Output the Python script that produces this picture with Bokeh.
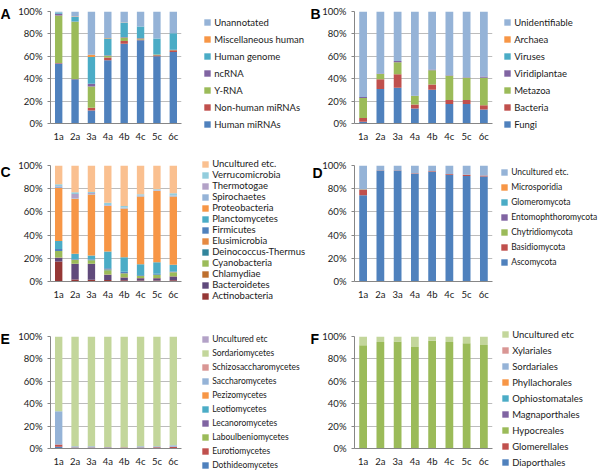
import numpy as np
from bokeh.plotting import figure
from bokeh.models import (ColumnDataSource, Range1d, FixedTicker, PrintfTickFormatter,
                          Legend, LegendItem, Label)
from bokeh.layouts import row, column
from bokeh.embed import file_html
from bokeh.resources import INLINE

samples = ["1a", "2a", "3a", "4a", "4b", "4c", "5c", "6c"]
pct_ticks = [0, 20, 40, 60, 80, 100]

# ---------------- Panel A ----------------
a_series = ["Human miRNAs", "Non-human miRNAs", "Y-RNA", "ncRNA", "Human genome",
            "Miscellaneous human", "Unannotated"]
a_values = [
    [53.5, 39.5, 11.6, 56.5, 71.3, 74.3, 60.0, 63.9],
    [0.5, 0.3, 2.4, 2.5, 2.4, 0.7, 1.0, 1.5],
    [42.5, 51.0, 19.0, 1.5, 3.0, 1.0, 0.5, 0.2],
    [1.5, 0.2, 2.4, 0.5, 0.5, 0.3, 0.2, 0.2],
    [1.0, 4.0, 23.9, 15.0, 12.7, 10.3, 14.1, 14.8],
    [0.0, 0.5, 2.1, 0.3, 0.3, 0.0, 0.2, 0.0],
    [1.0, 4.5, 38.6, 23.7, 9.8, 13.4, 24.0, 19.4],
]
a_colors = ["#4F81BD", "#C0504D", "#9BBB59", "#8064A2", "#4BACC6", "#F79646", "#95B3D7"]

# ---------------- Panel B ----------------
b_series = ["Fungi", "Bacteria", "Metazoa", "Viridiplantae", "Viruses", "Archaea",
            "Unidentifiable"]
b_values = [
    [1.5, 30.7, 31.9, 13.4, 30.1, 17.3, 17.3, 12.5],
    [3.5, 8.7, 12.0, 3.6, 4.8, 3.6, 3.6, 3.9],
    [17.7, 4.8, 10.7, 7.5, 12.6, 21.8, 20.0, 24.5],
    [1.0, 0.5, 1.3, 0.3, 0.7, 0.3, 0.3, 1.0],
    [0.0, 0.0, 0.0, 0.0, 0.0, 0.0, 0.0, 0.0],
    [0.0, 0.0, 0.0, 0.0, 0.0, 0.0, 0.0, 0.0],
    [76.3, 55.3, 44.1, 75.2, 51.8, 57.0, 58.8, 58.3],
]
b_colors = ["#4F81BD", "#C0504D", "#9BBB59", "#8064A2", "#4BACC6", "#F79646", "#95B3D7"]

# ---------------- Panel C ----------------
c_series = ["Actinobacteria", "Bacteroidetes", "Chlamydiae", "Cyanobacteria",
            "Deinococcus-Thermus", "Elusimicrobia", "Firmicutes", "Planctomycetes",
            "Proteobacteria", "Spirochaetes", "Thermotogae", "Verrucomicrobia",
            "Uncultured etc."]
c_values = [
    [17.3, 1.8, 1.5, 1.2, 1.0, 0.8, 0.8, 1.0],
    [3.2, 13.4, 13.7, 4.6, 2.5, 2.1, 2.1, 3.4],
    [0.2, 0.0, 0.0, 0.2, 0.2, 0.1, 0.1, 0.1],
    [5.5, 3.5, 3.2, 3.8, 2.9, 1.8, 2.7, 3.2],
    [0.0, 0.3, 0.3, 0.5, 0.5, 0.3, 0.3, 0.3],
    [0.0, 0.0, 0.0, 0.2, 0.2, 0.1, 0.1, 0.1],
    [1.8, 0.5, 0.5, 1.0, 1.0, 0.5, 0.5, 0.5],
    [7.0, 4.5, 3.3, 14.3, 12.6, 9.1, 10.0, 5.9],
    [45.6, 47.3, 52.4, 39.2, 42.1, 58.5, 61.4, 58.8],
    [1.2, 0.5, 0.5, 0.5, 0.5, 0.5, 0.3, 0.5],
    [0.5, 3.6, 1.0, 0.5, 0.3, 0.3, 0.3, 0.3],
    [1.5, 1.5, 0.8, 1.8, 1.3, 1.2, 1.0, 2.0],
    [16.2, 23.1, 22.8, 32.2, 34.9, 24.7, 20.4, 23.9],
]
c_colors = ["#953735", "#604A7B", "#BE6F2E", "#9BBB59", "#31859C", "#E68A42", "#4F81BD",
            "#4BACC6", "#F79646", "#95B3D7", "#B3A2C7", "#93CDDD", "#FAC090"]

# ---------------- Panel D ----------------
d_series = ["Ascomycota", "Basidiomycota", "Chytridiomycota", "Entomophthoromycota",
            "Glomeromycota", "Microsporidia", "Uncultured etc."]
d_values = [
    [74.4, 95.7, 95.7, 92.9, 94.3, 92.0, 90.9, 90.6],
    [4.9, 0.3, 0.2, 0.5, 0.8, 0.7, 1.2, 0.8],
    [0.2, 0.0, 0.0, 0.0, 0.0, 0.0, 0.0, 0.0],
    [0.0, 0.0, 0.0, 0.0, 0.0, 0.0, 0.0, 0.0],
    [0.0, 0.0, 0.0, 0.0, 0.0, 0.0, 0.0, 0.0],
    [0.0, 0.0, 0.0, 0.0, 0.0, 0.0, 0.0, 0.0],
    [20.5, 4.0, 4.1, 6.6, 4.9, 7.3, 7.9, 8.6],
]
d_colors = ["#4F81BD", "#C0504D", "#9BBB59", "#8064A2", "#4BACC6", "#F79646", "#95B3D7"]

# ---------------- Panel E ----------------
e_series = ["Dothideomycetes", "Eurotiomycetes", "Laboulbeniomycetes", "Lecanoromycetes",
            "Leotiomycetes", "Pezizomycetes", "Saccharomycetes", "Schizosaccharomycetes",
            "Sordariomycetes", "Uncultured etc"]
e_values = [
    [1.5, 0.5, 0.3, 0.3, 0.2, 0.5, 0.3, 0.5],
    [2.1, 0.3, 0.7, 0.5, 0.6, 0.5, 0.8, 1.0],
    [0.0, 0.0, 0.0, 0.0, 0.0, 0.0, 0.0, 0.0],
    [0.0, 0.0, 0.0, 0.0, 0.0, 0.0, 0.0, 0.0],
    [0.0, 0.0, 0.0, 0.0, 0.0, 0.0, 0.0, 0.0],
    [0.0, 0.0, 0.0, 0.0, 0.0, 0.0, 0.0, 0.0],
    [29.7, 1.3, 1.0, 0.5, 0.4, 1.0, 0.9, 1.5],
    [0.0, 0.0, 0.0, 0.0, 0.0, 0.0, 0.0, 0.0],
    [66.7, 97.9, 98.0, 98.7, 98.8, 98.0, 98.0, 97.0],
    [0.0, 0.0, 0.0, 0.0, 0.0, 0.0, 0.0, 0.0],
]
e_colors = ["#4F81BD", "#C0504D", "#9BBB59", "#8064A2", "#4BACC6", "#F79646", "#95B3D7",
            "#D99694", "#C3D69B", "#B3A2C7"]

# ---------------- Panel F ----------------
f_series = ["Diaporthales", "Glomerellales", "Hypocreales", "Magnaporthales",
            "Ophiostomatales", "Phyllachorales", "Sordariales", "Xylariales",
            "Uncultured etc"]
f_values = [
    [0.0, 0.0, 0.0, 0.0, 0.0, 0.0, 0.0, 0.0],
    [0.0, 0.0, 0.0, 0.0, 0.0, 0.0, 0.0, 0.0],
    [92.2, 95.2, 95.5, 90.7, 96.1, 95.2, 94.0, 92.5],
    [0.0, 0.0, 0.0, 0.0, 0.0, 0.0, 0.0, 0.0],
    [0.0, 0.0, 0.0, 0.0, 0.0, 0.0, 0.0, 0.0],
    [0.0, 0.0, 0.0, 0.0, 0.0, 0.0, 0.0, 0.0],
    [0.0, 0.0, 0.0, 0.0, 0.0, 0.0, 0.0, 0.0],
    [0.0, 0.0, 0.0, 0.0, 0.0, 0.0, 0.0, 0.0],
    [7.8, 4.8, 4.5, 9.3, 3.9, 4.8, 6.0, 7.5],
]
f_colors = ["#4F81BD", "#C0504D", "#9BBB59", "#8064A2", "#4BACC6", "#F79646", "#95B3D7",
            "#D99694", "#C3D69B"]

FONT = "Lato"
TEXT_H = 11          # legend label line height (px) measured from previous render
AXIS_COL = "#868686"
GRID_COL = "#BCBCBC"
PAGE_W, PAGE_H = 600, 472


def bars_fig(series, values, colors, width, height, fl, fr, ft, fb):
    data = {"sample": samples}
    for name, vals in zip(series, values):
        data[name] = vals
    src = ColumnDataSource(data)

    p = figure(x_range=samples, y_range=Range1d(0, 100), width=width, height=height,
               output_backend="svg", toolbar_location=None,
               min_border_left=fl, min_border_right=width - fr,
               min_border_top=ft, min_border_bottom=height - fb)
    p.outline_line_color = None

    p.vbar_stack(series, x="sample", width=0.45, fill_color=colors,
                 line_color=None, source=src)

    p.xgrid.grid_line_color = None
    p.ygrid.ticker = FixedTicker(ticks=pct_ticks)
    p.ygrid.grid_line_color = GRID_COL

    p.xaxis.axis_label = None
    p.yaxis.axis_label = None
    p.yaxis.ticker = FixedTicker(ticks=pct_ticks)
    p.yaxis.formatter = PrintfTickFormatter(format="%d%%")
    p.yaxis.minor_tick_line_color = None
    p.yaxis.major_tick_in = 0
    p.yaxis.major_tick_out = 3
    p.yaxis.major_label_standoff = 5
    p.yaxis.major_tick_line_color = AXIS_COL
    p.xaxis.major_tick_line_color = None
    p.xaxis.major_tick_in = 0
    p.xaxis.major_tick_out = 0
    p.xaxis.major_label_standoff = 7
    for ax in (p.xaxis[0], p.yaxis[0]):
        ax.axis_line_color = AXIS_COL
        ax.major_label_text_font = FONT
        ax.major_label_text_font_size = "9.5px"
        ax.major_label_text_color = "#1a1a1a"
    return p


# bar panels: left column frame x 50..181, right column frame x 354..492 (page pixels)
pA = bars_fig(a_series, a_values, a_colors, 300, 150, 50, 181, 11, 123)
pB = bars_fig(b_series, b_values, b_colors, 300, 150, 54, 192, 11, 123)
pC = bars_fig(c_series, c_values, c_colors, 300, 160, 50, 181, 15, 131)
pD = bars_fig(d_series, d_values, d_colors, 300, 160, 54, 192, 15, 131)
pE = bars_fig(e_series, e_values, e_colors, 300, 162, 50, 181, 26, 138)
pF = bars_fig(f_series, f_values, f_colors, 300, 162, 54, 192, 26, 138)
bars_layout = column(row(pA, pB), row(pC, pD), row(pE, pF))

# transparent overlay holding the panel letters and the legends (page pixel coordinates)
ov = figure(width=PAGE_W, height=PAGE_H, x_range=Range1d(0, PAGE_W),
            y_range=Range1d(0, PAGE_H), x_axis_type=None, y_axis_type=None,
            output_backend="svg", toolbar_location=None,
            min_border_left=0, min_border_right=0, min_border_top=0, min_border_bottom=0,
            styles={"position": "absolute", "left": "0px", "top": "0px"})
ov.outline_line_color = None
ov.grid.visible = False
ov.background_fill_color = None
ov.border_fill_color = None


def add_letter(letter, x, y_center):
    ov.add_layout(Label(x=x, y=PAGE_H - y_center, x_units="screen", y_units="screen",
                        text=letter, text_font="Liberation Sans", text_font_style="bold",
                        text_font_size="14px", text_baseline="middle", text_align="left",
                        text_color="black"))


def add_legend(series, colors, swatch_x, first_center, spacing, font_size="9.5px"):
    rs = [ov.vbar(x=[np.nan], top=[np.nan], width=1, fill_color=c, line_color=None)
          for c in colors]
    items = [LegendItem(label=name, renderers=[r]) for name, r in zip(series, rs)][::-1]
    n = len(series)
    top = first_center - TEXT_H / 2.0
    bottom = top + n * TEXT_H + (n - 1) * spacing
    ov.add_layout(Legend(items=items, location=(swatch_x - 0.8, PAGE_H - bottom),
                         glyph_width=8, glyph_height=8, label_height=8, label_width=8,
                         spacing=spacing, padding=0, margin=0, label_standoff=3,
                         border_line_color=None, background_fill_alpha=0,
                         label_text_font=FONT, label_text_font_size=font_size,
                         label_text_color="#1a1a1a"))


add_letter("A", 0, 13)
add_letter("B", 310, 13)
add_letter("C", 0, 171)
add_letter("D", 312, 172)
add_letter("E", 0, 338)
add_letter("F", 310, 338)

add_legend(a_series, a_colors, 204, 22, 6)
add_legend(b_series, b_colors, 504, 22, 6)
add_legend(c_series, c_colors, 202, 163.7, 0)
add_legend(d_series, d_colors, 501, 165.5, 5, font_size="8.5px")
add_legend(e_series, e_colors, 202, 329.2, 4, font_size="8.5px")
add_legend(f_series, f_colors, 502, 334.3, 5)

open("out.html", "w").write(file_html([bars_layout, ov], INLINE))
